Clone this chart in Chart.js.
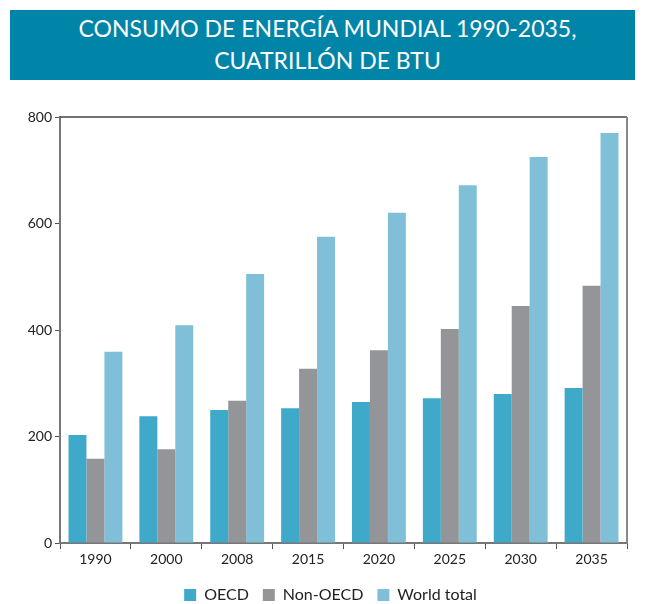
<!DOCTYPE html>
<html>
<head>
<meta charset="utf-8">
<script src="https://cdn.jsdelivr.net/npm/chart.js@4/dist/chart.umd.min.js"></script>
<style>
  html, body { margin: 0; padding: 0; background: #fff; overflow: hidden; }
  #wrap { position: relative; width: 645px; height: 604px; overflow: hidden; }
  #banner { position: absolute; left: 10px; top: 10px; width: 625px; height: 70px;
    background: #0084a8; color: #fff; font-family: Lato, "Open Sans", sans-serif;
    font-size: 23px; line-height: 32px; text-align: center; padding-top: 2px; padding-left: 10px; box-sizing: border-box; }
  canvas { position: absolute; left: 0; top: 0; }
</style>
</head>
<body>
<div id="wrap">
  <div id="banner">CONSUMO DE ENERGÍA MUNDIAL 1990-2035,<br>CUATRILLÓN DE BTU</div>
  <canvas id="c" width="645" height="604"></canvas>
</div>
<script>
const categories = ["1990", "2000", "2008", "2015", "2020", "2025", "2030", "2035"];
const oecd = [203, 238, 250, 253, 265, 272, 280, 291];
const nonOecd = [158, 176, 267, 327, 362, 402, 445, 483];
const worldTotal = [359, 409, 505, 575, 620, 672, 725, 770];
const yTicks = [0, 200, 400, 600, 800];

const frame = {
  id: 'frame',
  afterDraw(chart) {
    const a = chart.chartArea, ctx = chart.ctx;
    ctx.save();
    ctx.strokeStyle = '#444'; ctx.lineWidth = 1.5;
    ctx.beginPath(); ctx.moveTo(a.left, a.top); ctx.lineTo(a.right, a.top); ctx.stroke();
    ctx.strokeStyle = '#888'; ctx.lineWidth = 2;
    ctx.beginPath(); ctx.moveTo(a.right, a.top); ctx.lineTo(a.right, a.bottom); ctx.stroke();
    ctx.restore();
  }
};

// shift the legend block a little to the right, as in the reference
const legendShift = {
  id: 'legendShift',
  afterInit(chart) {
    const lg = chart.legend;
    if (!lg || lg._shifted) return;
    const orig = lg.draw.bind(lg);
    lg.draw = function (area) {
      const ctx = chart.ctx;
      ctx.save(); ctx.translate(17, 0); orig(area); ctx.restore();
    };
    lg._shifted = true;
  }
};

Chart.defaults.font.family = 'Lato, "Open Sans", sans-serif';
Chart.defaults.color = '#222';

new Chart(document.getElementById('c'), {
  type: 'bar',
  data: {
    labels: categories,
    datasets: [
      { label: 'OECD', data: oecd, backgroundColor: '#3ea9c8' },
      { label: 'Non-OECD', data: nonOecd, backgroundColor: '#939598' },
      { label: 'World total', data: worldTotal, backgroundColor: '#80bfd8' }
    ]
  },
  plugins: [frame, legendShift],
  options: {
    responsive: false,
    animation: false,
    layout: { padding: { left: 0, right: 18, top: 117, bottom: -9 } },
    datasets: { bar: { categoryPercentage: 0.76, barPercentage: 1 } },
    plugins: {
      title: { display: false },
      tooltip: { enabled: false },
      legend: {
        position: 'bottom',
        labels: { boxWidth: 12, boxHeight: 12, padding: 14, font: { size: 16 }, color: '#222' }
      }
    },
    scales: {
      x: {
        grid: { drawOnChartArea: false, offset: true, tickLength: 6, color: '#555' },
        border: { color: '#777', width: 2 },
        ticks: { font: { size: 14 }, padding: 2, color: '#222' },
        afterFit(s) { s.height = 30; }
      },
      y: {
        min: 0, max: 800,
        afterBuildTicks(s) { s.ticks = yTicks.map(v => ({ value: v })); },
        grid: { drawOnChartArea: false, tickLength: 5, color: '#555' },
        border: { color: '#777', width: 2 },
        ticks: { font: { size: 14 }, padding: 3, color: '#222' },
        afterFit(s) { s.width = 60; }
      }
    }
  }
});
</script>
</body>
</html>
